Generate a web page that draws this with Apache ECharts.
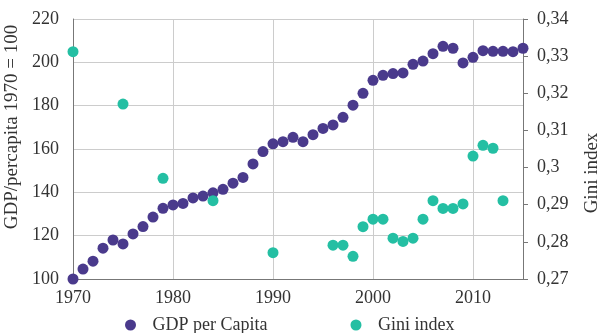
<!DOCTYPE html>
<html>
<head>
<meta charset="utf-8">
<script src="https://cdn.jsdelivr.net/npm/echarts@6/dist/echarts.min.js"></script>
<style>
html,body{margin:0;padding:0;background:#fff;}
#main{width:598px;height:333px;}
</style>
</head>
<body>
<div id="main"></div>
<script>
var years = [1970,1971,1972,1973,1974,1975,1976,1977,1978,1979,1980,1981,1982,1983,1984,1985,1986,1987,1988,1989,1990,1991,1992,1993,1994,1995,1996,1997,1998,1999,2000,2001,2002,2003,2004,2005,2006,2007,2008,2009,2010,2011,2012,2013,2014,2015];
var gdp = [100,104.6,108.2,114.2,118,116.2,120.8,124.2,128.6,132.6,134.2,134.9,137.4,138.3,139.8,141.4,144.2,146.9,153.1,158.8,162.4,163.4,165.4,163.4,166.6,169.5,171.1,174.6,180.2,185.7,191.7,194,194.8,195.1,199.1,200.6,204,207.4,206.5,199.7,202.3,205.4,205.1,205.1,204.9,206.5];
var giniYears = [1970,1975,1979,1984,1990,1996,1997,1998,1999,2000,2001,2002,2003,2004,2005,2006,2007,2008,2009,2010,2011,2012,2013];
var gini = [0.3312,0.3171,0.2971,0.2911,0.2771,0.2791,0.2791,0.2761,0.2841,0.2861,0.2861,0.2810,0.2801,0.2810,0.2861,0.2911,0.2890,0.2890,0.2902,0.3031,0.3060,0.3052,0.2911];

var font = 'Liberation Serif';
var txt = '#333';

var gdpData = [];
for (var i = 0; i < years.length; i++) gdpData.push([years[i], gdp[i]]);
var giniData = [];
for (var j = 0; j < giniYears.length; j++) giniData.push([giniYears[j], gini[j]]);

var chart = echarts.init(document.getElementById('main'));
var option = {
	backgroundColor: '#fff',
	textStyle: { fontFamily: font },
	animation: false,
	grid: { left: 73, right: 75, top: 19, bottom: 54, outerBoundsMode: 'none' },
	legend: {
		top: 316,
		left: 125,
		padding: 0,
		itemGap: 83,
		itemWidth: 34,
		itemHeight: 11,
		icon: 'circle',
		textStyle: { fontFamily: font, fontSize: 18, color: txt },
		data: ['GDP per Capita', 'Gini index']
	},
	xAxis: {
		type: 'value',
		min: 1970,
		max: 2015,
		interval: 10,
		axisLine: { show: true, lineStyle: { color: '#777' } },
		axisTick: { show: false },
		axisLabel: {
			color: txt, fontSize: 18, fontFamily: font, margin: 10, showMaxLabel: false,
			formatter: function(v) { return String(v); }
		},
		splitLine: { show: true, lineStyle: { color: '#ccc' } }
	},
	yAxis: [{
		type: 'value',
		min: 100,
		max: 220,
		interval: 20,
		name: 'GDP/percapita 1970 = 100',
		nameLocation: 'middle',
		nameGap: 41,
		nameTextStyle: { color: txt, fontSize: 19, fontFamily: font, padding: [0, 0, 0, 44] },
		axisLine: { show: true, lineStyle: { color: '#777' } },
		axisTick: { show: false },
		axisLabel: { color: txt, fontSize: 18, fontFamily: font, margin: 14 },
		splitLine: { show: true, lineStyle: { color: '#ccc' } }
	}, {
		type: 'value',
		min: 0.27,
		max: 0.34,
		interval: 0.01,
		position: 'right',
		name: 'Gini index',
		nameLocation: 'middle',
		nameGap: 60,
		nameTextStyle: { color: txt, fontSize: 19, fontFamily: font, padding: [0, 48, 0, 0] },
		axisLine: { show: true, lineStyle: { color: '#777' } },
		axisTick: { show: true, length: 5, lineStyle: { color: '#777' } },
		axisLabel: {
			color: txt, fontSize: 18, fontFamily: font, margin: 14,
			formatter: function(v) { return String(+v.toFixed(2)).replace('.', ','); }
		},
		splitLine: { show: false }
	}],
	series: [{
		name: 'GDP per Capita',
		type: 'scatter',
		yAxisIndex: 0,
		symbolSize: 11,
		itemStyle: { color: '#4a3a8c', opacity: 1 },
		data: gdpData
	}, {
		name: 'Gini index',
		type: 'scatter',
		yAxisIndex: 1,
		symbolSize: 11,
		itemStyle: { color: '#24bfa3', opacity: 1 },
		data: giniData
	}]
};
chart.setOption(option);
</script>
</body>
</html>
